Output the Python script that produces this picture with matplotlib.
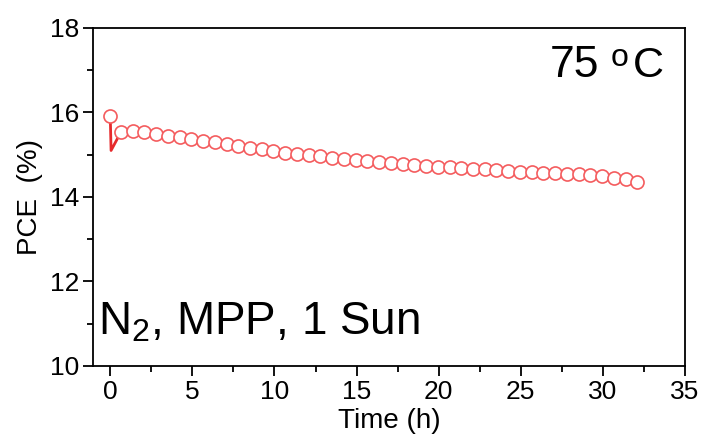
import numpy as np
import matplotlib.pyplot as plt
from matplotlib.ticker import MultipleLocator

plt.rcParams['font.family'] = ['Liberation Sans', 'DejaVu Sans']
plt.rcParams['mathtext.fontset'] = 'custom'
plt.rcParams['mathtext.rm'] = 'Liberation Sans'

# PCE vs time
time_h = [0.0, 0.05, 0.64, 1.36, 2.07, 2.79, 3.50, 4.22, 4.93, 5.65, 6.36, 7.08,
          7.79, 8.51, 9.22, 9.94, 10.65, 11.37, 12.08, 12.80, 13.51, 14.23,
          14.94, 15.66, 16.37, 17.09, 17.80, 18.52, 19.23, 19.95, 20.66, 21.38,
          22.09, 22.81, 23.52, 24.24, 24.95, 25.67, 26.38, 27.10, 27.81, 28.53,
          29.24, 29.96, 30.67, 31.39, 32.10]
pce = [15.92, 15.10, 15.53, 15.56, 15.53, 15.49, 15.45, 15.41, 15.37, 15.33,
       15.29, 15.25, 15.21, 15.17, 15.13, 15.09, 15.05, 15.02, 14.99, 14.96,
       14.93, 14.90, 14.87, 14.85, 14.82, 14.80, 14.78, 14.76, 14.74, 14.72,
       14.70, 14.68, 14.67, 14.65, 14.63, 14.62, 14.60, 14.59, 14.57, 14.56,
       14.55, 14.54, 14.52, 14.49, 14.46, 14.42, 14.35]

# markers on every point except the dip
mk_t = [time_h[0]] + time_h[2:]
mk_p = [pce[0]] + pce[2:]

fig = plt.figure(figsize=(7.02, 4.34), dpi=100)
ax = fig.add_axes([0.1325, 0.157, 0.8433, 0.7785])

ax.plot(time_h, pce, color='#e62a2c', linewidth=2.0, zorder=2)
ax.plot(mk_t, mk_p, linestyle='none', marker='o', markersize=9.4,
        markerfacecolor='white', markeredgecolor='#f45c5e', markeredgewidth=1.2, zorder=3)

ax.set_xlim(-1.05, 35)
ax.set_ylim(10, 18)
ax.xaxis.set_major_locator(MultipleLocator(5))
ax.xaxis.set_minor_locator(MultipleLocator(2.5))
ax.yaxis.set_major_locator(MultipleLocator(2))
ax.yaxis.set_minor_locator(MultipleLocator(1))

ax.tick_params(axis='both', which='major', direction='out', length=7, width=1.3,
               labelsize=19, pad=3)
ax.tick_params(axis='both', which='minor', direction='out', length=4, width=1.3)
for s in ax.spines.values():
    s.set_linewidth(1.3)

ax.set_xlabel('Time (h)', fontsize=20, labelpad=3)
ax.set_ylabel('PCE  (%)', fontsize=20, labelpad=5)

# "75 oC" built from pieces so the small "o" sits at cap height
fig.text(664 / 702, 1 - 77 / 434, 'C', fontsize=31, ha='right', va='baseline')
fig.text(629 / 702, 1 - 66 / 434, 'o', fontsize=23, ha='right', va='baseline')
fig.text(599 / 702, 1 - 77 / 434, '75', fontsize=32, ha='right', va='baseline')

ax.text(0.008, 0.092, r'N$_\mathregular{2}$, MPP, 1 Sun', transform=ax.transAxes,
        fontsize=33, ha='left', va='baseline')

fig.savefig('out.png', dpi=100)
